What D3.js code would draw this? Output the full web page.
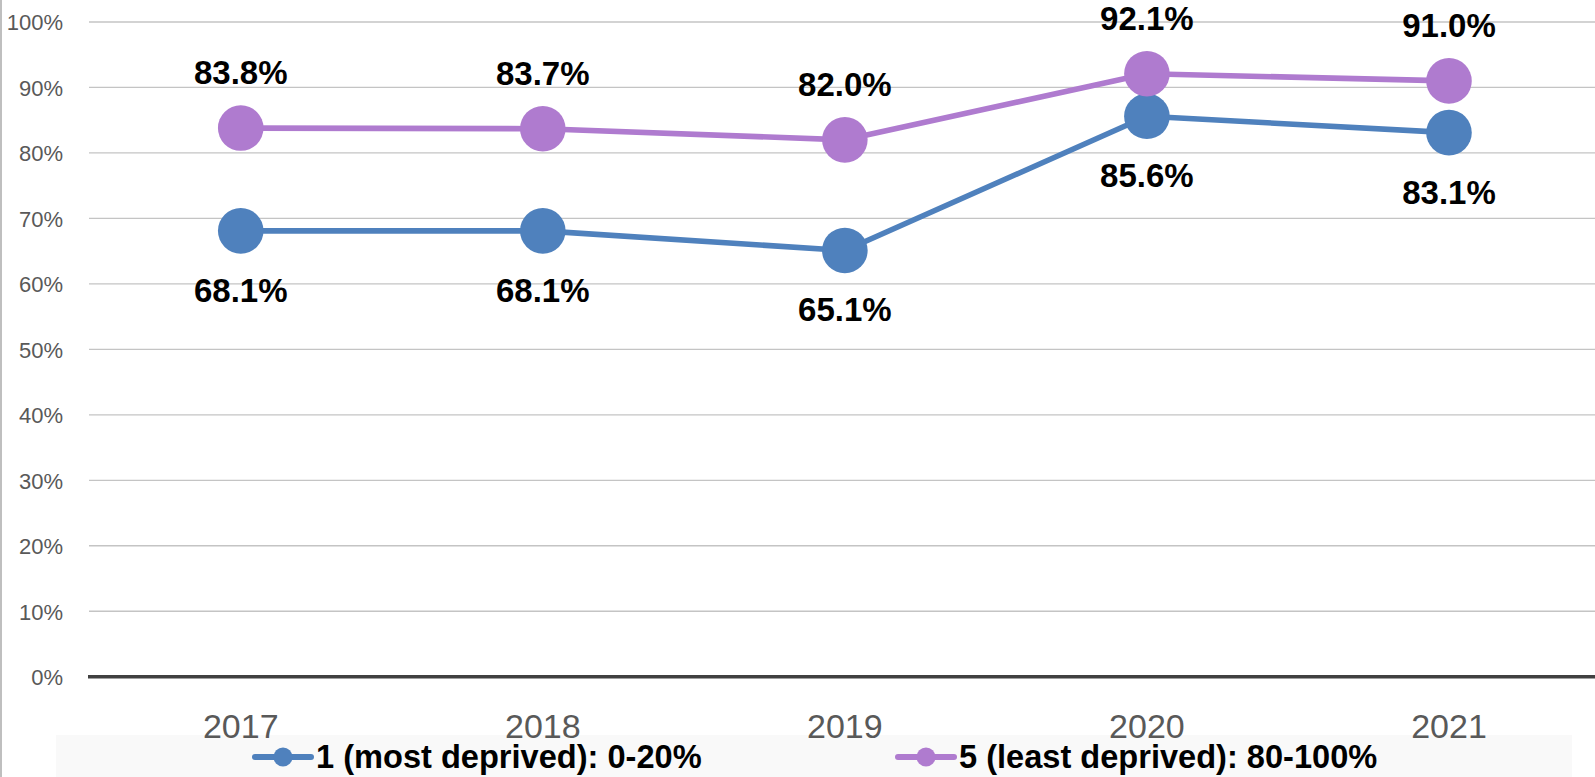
<!DOCTYPE html>
<html>
<head>
<meta charset="utf-8">
<script src="https://cdn.jsdelivr.net/npm/d3@7"></script>
<style>
  html, body { margin: 0; padding: 0; background: #fff; }
  svg { display: block; }
</style>
</head>
<body>
<svg id="chart" width="1595" height="777"></svg>
<script>
const years = ["2017", "2018", "2019", "2020", "2021"];
const mostDeprived = [68.1, 68.1, 65.1, 85.6, 83.1];
const leastDeprived = [83.8, 83.7, 82.0, 92.1, 91.0];
const yTicks = [0, 10, 20, 30, 40, 50, 60, 70, 80, 90, 100];
const seriesNames = ["1 (most deprived): 0-20%", "5 (least deprived): 80-100%"];
const seriesColors = ["#4F81BD", "#AF7BCF"];

const svg = d3.select("#chart");
const W = 1595, H = 777;

const x = d3.scaleBand().domain(years).range([89.7, 1600]).paddingInner(0).paddingOuter(0);
const y = d3.scaleLinear().domain([0, 100]).range([676.7, 22]);
const cx = d => x(d) + x.bandwidth() / 2;

// left border
svg.append("line").attr("x1", 1).attr("x2", 1).attr("y1", 0).attr("y2", H)
  .attr("stroke", "#BFBFBF").attr("stroke-width", 2);

// gridlines
const yAxis = d3.axisLeft(y).tickValues(yTicks).tickFormat(d => d + "%").tickSize(0).tickPadding(0);
const gy = svg.append("g").attr("transform", "translate(63,0)").call(yAxis);
gy.select(".domain").remove();
gy.selectAll("text").attr("font-family", "Liberation Sans, Arial, sans-serif")
  .attr("font-size", 22).attr("fill", "#595959").attr("x", 0).attr("dy", "0.36em");

svg.append("g").selectAll("line").data(yTicks.filter(t => t > 0)).join("line")
  .attr("x1", 89).attr("x2", W).attr("y1", d => y(d)).attr("y2", d => y(d))
  .attr("stroke", "#C4C4C4").attr("stroke-width", 1.3);

// zero line
svg.append("line").attr("x1", 88).attr("x2", W).attr("y1", y(0)).attr("y2", y(0))
  .attr("stroke", "#404040").attr("stroke-width", 3.6);

// legend background
svg.append("rect").attr("x", 56).attr("y", 735).attr("width", 1516).attr("height", 42)
  .attr("fill", "#F9F9F9");

// x axis labels
const xAxis = d3.axisBottom(x).tickSize(0).tickPadding(0);
const gx = svg.append("g").attr("transform", "translate(0,738)").call(xAxis);
gx.select(".domain").remove();
gx.selectAll("text").attr("font-family", "Liberation Sans, Arial, sans-serif")
  .attr("font-size", 34).attr("fill", "#595959").attr("y", 0).attr("dy", 0);

// series
const series = [
  { name: seriesNames[0], values: mostDeprived, color: seriesColors[0], labelPos: "below" },
  { name: seriesNames[1], values: leastDeprived, color: seriesColors[1], labelPos: "above" }
];

const line = d3.line().x(d => cx(d.year)).y(d => y(d.v));

series.forEach(s => {
  const pts = years.map((yr, i) => ({ year: yr, v: s.values[i] }));
  const g = svg.append("g");
  g.append("path").datum(pts).attr("d", line).attr("fill", "none")
    .attr("stroke", s.color).attr("stroke-width", 5.6).attr("stroke-linejoin", "round");
  g.selectAll("circle").data(pts).join("circle")
    .attr("cx", d => cx(d.year)).attr("cy", d => y(d.v)).attr("r", 22.8)
    .attr("fill", s.color);
  g.selectAll("text").data(pts).join("text")
    .attr("x", d => cx(d.year))
    .attr("y", d => s.labelPos === "above" ? y(d.v) - 44 : y(d.v) + 71)
    .attr("text-anchor", "middle")
    .attr("font-family", "Liberation Sans, Arial, sans-serif")
    .attr("font-weight", "bold").attr("font-size", 33).attr("fill", "#000")
    .text(d => d.v.toFixed(1) + "%");
});

// legend
const legendX = [255, 898];
series.forEach((s, i) => {
  const g = svg.append("g").attr("transform", `translate(${legendX[i]},0)`);
  g.append("line").attr("x1", 0).attr("x2", 56).attr("y1", 757).attr("y2", 757)
    .attr("stroke", s.color).attr("stroke-width", 6).attr("stroke-linecap", "round");
  g.append("circle").attr("cx", 28).attr("cy", 757).attr("r", 9.5).attr("fill", s.color);
  g.append("text").attr("x", 61).attr("y", 768)
    .attr("font-family", "Liberation Sans, Arial, sans-serif")
    .attr("font-weight", "bold").attr("font-size", 32.6).attr("fill", "#000")
    .text(s.name);
});
</script>
</body>
</html>
